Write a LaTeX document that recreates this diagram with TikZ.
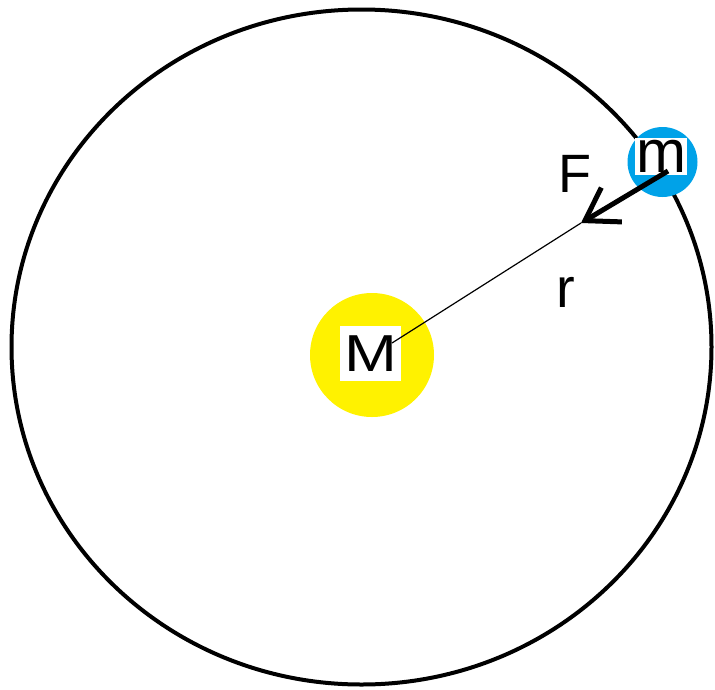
\documentclass[tikz,border=0pt]{standalone}
\usepackage{fontspec}
\setmainfont{Liberation Sans}
\usetikzlibrary{arrows.meta, positioning}
\definecolor{sunyellow}{HTML}{FFF200}
\definecolor{planetblue}{HTML}{00A2E8}
\tikzset{
  >={Straight Barb[length=31pt, width=40pt]},
  orbit/.style={draw=black, line width=4pt},
  sun/.style={circle, fill=sunyellow, minimum size=124pt, inner sep=0pt},
  planet/.style={circle, fill=planetblue, minimum width=64pt, minimum height=70pt, inner sep=0pt},
  tag/.style={rectangle, fill=white, inner sep=0pt, text depth=0pt},
  lbl/.style={inner sep=0pt, text depth=0pt, font=\fontsize{54}{60}\selectfont},
  rline/.style={line width=1.2pt},
  force/.style={->, line width=5pt},
}

\begin{document}
\begin{tikzpicture}[x=1pt, y=-1pt]
  \useasboundingbox (0,0) rectangle (715,689);
  % orbit of the small mass
  \draw[orbit] (361.5,347) ellipse [x radius=350pt, y radius=337.5pt];
  \node[sun] (sun) at (372,355) {};
  \node[planet] (planet) at (662.5,162) {};
  \node[tag, minimum width=61pt, minimum height=55pt,
        font=\fontsize{52}{60}\selectfont] (Mtag) at (370.5,353.5) {\scalebox{1.22}[1]{M}};
  \node[tag, minimum width=52pt, minimum height=37pt,
        font=\fontsize{60}{66}\selectfont] (mtag) at (661,156.5) {m};
  % radius and force
  \coordinate (rstart) at (392,343);
  \coordinate (mend) at (668,171);
  \coordinate (ftip) at (581,223);
  \draw[rline] (rstart) -- (ftip);
  \draw[force] (mend) -- (ftip);
  \node[lbl] (F) at (575,174) {F};
  \node[lbl, font=\fontsize{56}{60}\selectfont] (r) at (566,292) {r};
\end{tikzpicture}
\end{document}
